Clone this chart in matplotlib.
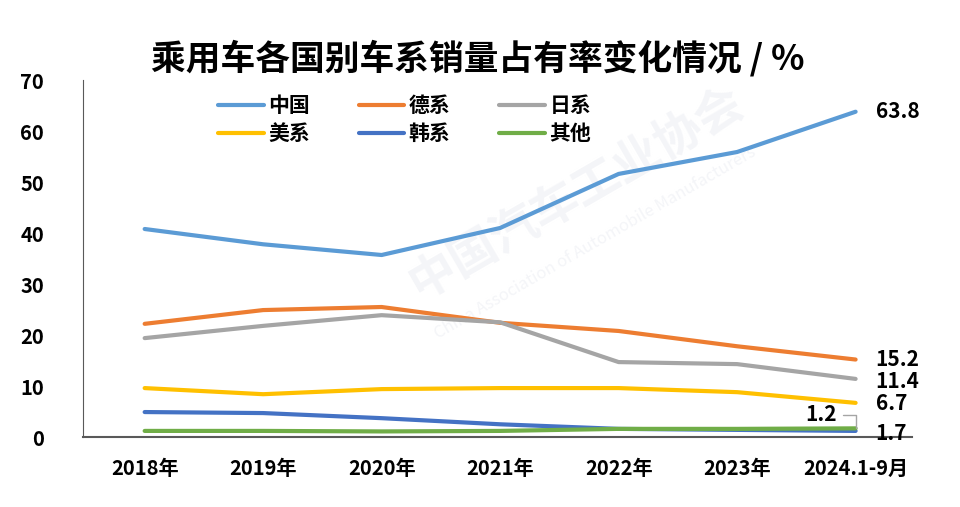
import matplotlib
matplotlib.use("Agg")
import matplotlib.pyplot as plt

plt.rcParams['font.family'] = ['Noto Sans CJK SC', 'DejaVu Sans']

years = ["2018年", "2019年", "2020年", "2021年", "2022年", "2023年", "2024.1-9月"]
china = [40.8, 37.8, 35.7, 41.0, 51.6, 55.9, 63.8]
german = [22.2, 24.9, 25.5, 22.4, 20.8, 17.8, 15.2]
japan = [19.4, 21.8, 23.9, 22.5, 14.7, 14.3, 11.4]
usa = [9.6, 8.4, 9.4, 9.6, 9.6, 8.8, 6.7]
korea = [4.9, 4.7, 3.7, 2.5, 1.6, 1.4, 1.2]
other = [1.2, 1.2, 1.1, 1.2, 1.6, 1.6, 1.7]

series = [
    ("中国", china, "#5B9BD5"),
    ("德系", german, "#ED7D31"),
    ("日系", japan, "#A5A5A5"),
    ("美系", usa, "#FFC000"),
    ("韩系", korea, "#4472C4"),
    ("其他", other, "#70AD47"),
]

fig = plt.figure(figsize=(9.6, 5.07), dpi=100)
ax = fig.add_axes([0.0865, 0.138, 0.864, 0.704])

# faint watermark behind everything
fig.text(0.60, 0.62, "中国汽车工业协会", fontsize=34, color="#F4F5F8", rotation=30,
         ha="center", va="center", fontweight="bold", zorder=-5)
fig.text(0.62, 0.52, "China Association of Automobile Manufacturers", fontsize=12,
         color="#F4F5F8", rotation=30, ha="center", va="center", zorder=-5)

x = list(range(len(years)))
lines = {}
for name, vals, color in series:
    lines[name], = ax.plot(x, vals, color=color, lw=3, label=name,
                           solid_capstyle="round", solid_joinstyle="round", zorder=3)

ax.set_xlim(-0.52, 6.48)
ax.set_ylim(0, 70)
ax.set_yticks(range(0, 71, 10))
ax.set_xticks(x)
ax.set_xticklabels(years)
ax.tick_params(length=0, labelsize=14.5)
ax.tick_params(axis="x", pad=15)
ax.tick_params(axis="y", pad=28)
for lbl in ax.get_xticklabels() + ax.get_yticklabels():
    lbl.set_fontweight("bold")
ax.spines["top"].set_visible(False)
ax.spines["right"].set_visible(False)
ax.spines["left"].set_color("#595959")
ax.spines["bottom"].set_color("#595959")
ax.spines["bottom"].set_linewidth(1.5)
ax.patch.set_alpha(0)

# row-major legend order for 3 columns
order = ["中国", "美系", "德系", "韩系", "日系", "其他"]
ax.legend([lines[n] for n in order], order, ncol=3, loc="upper left",
          bbox_to_anchor=(0.14, 1.01), frameon=False,
          prop={"weight": "bold", "size": 15}, handlelength=2.2,
          columnspacing=2.35, handletextpad=0.2, labelspacing=0.32)

lab = dict(fontsize=15, fontweight="bold", textcoords="offset pixels", va="center", ha="left")
ax.annotate(f"{china[-1]}", (6, china[-1]), xytext=(20, 0), **lab)
ax.annotate(f"{german[-1]}", (6, german[-1]), xytext=(20, 0), **lab)
ax.annotate(f"{japan[-1]}", (6, japan[-1]), xytext=(20, -3), **lab)
ax.annotate(f"{usa[-1]}", (6, usa[-1]), xytext=(20, -1), **lab)
ax.annotate(f"{other[-1]}", (6, other[-1]), xytext=(20, -5), **lab)
ax.annotate(f"{korea[-1]}", (6, korea[-1]), xytext=(-50, 16), fontsize=15, fontweight="bold",
            textcoords="offset pixels", va="center", ha="left",
            arrowprops=dict(arrowstyle="-", color="#A5A5A5", lw=1,
                            connectionstyle="angle,angleA=0,angleB=90,rad=0",
                            shrinkA=2, shrinkB=2))

fig.text(0.498, 0.885, "乘用车各国别车系销量占有率变化情况 / %", fontsize=25,
         fontweight="black", ha="center", va="center")

fig.savefig("out.png", dpi=100)
